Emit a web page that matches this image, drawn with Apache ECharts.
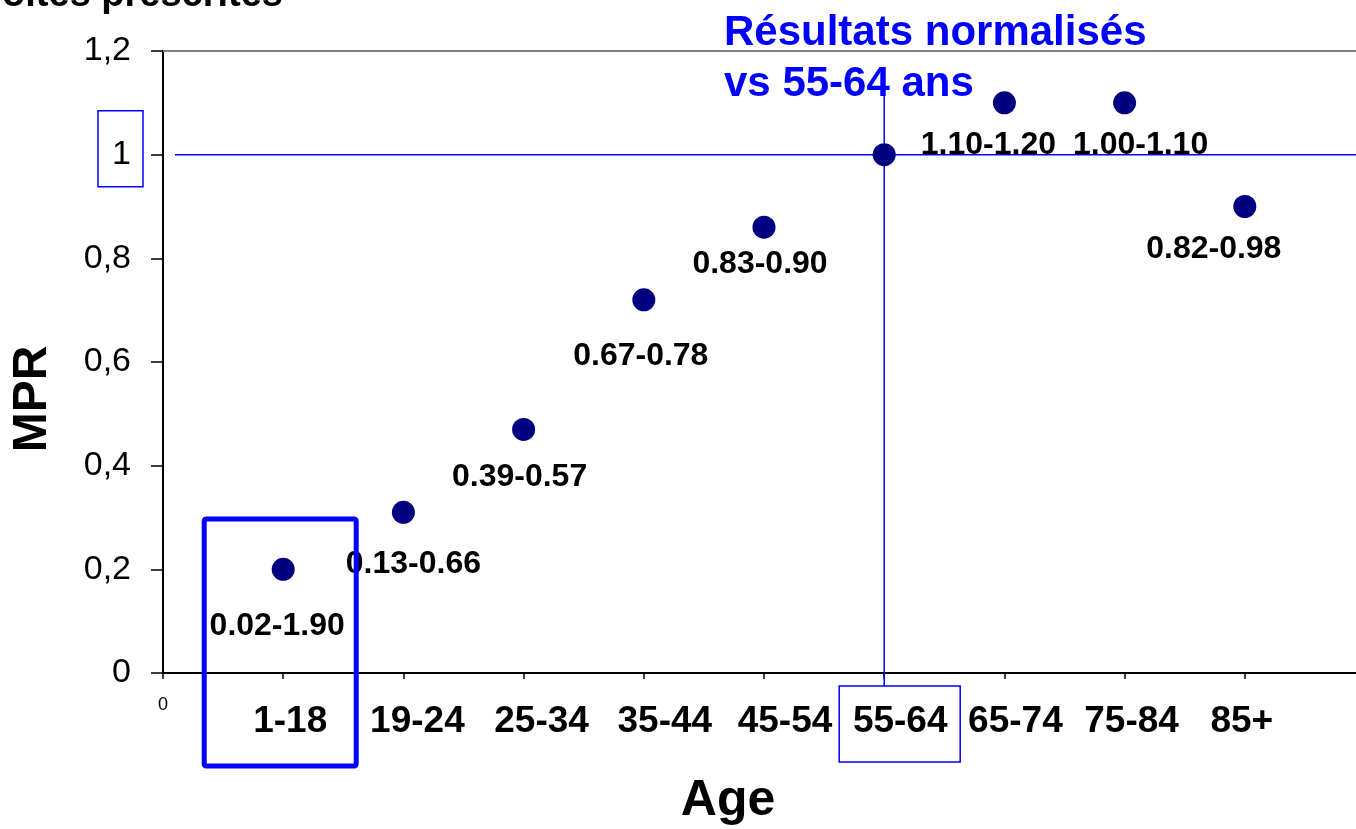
<!DOCTYPE html>
<html>
<head>
<meta charset="utf-8">
<title>MPR par âge</title>
<script src="https://cdn.jsdelivr.net/npm/echarts@6/dist/echarts.min.js"></script>
<style>
  html, body { margin: 0; padding: 0; background: #fff; }
  #chart { width: 1356px; height: 829px; }
</style>
</head>
<body>
<div id="chart"></div>
<script>
// Age groups, MPR per group (normalised to 55-64) and the confidence ranges shown beside each dot
const ageGroups = ['1-18', '19-24', '25-34', '35-44', '45-54', '55-64', '65-74', '75-84', '85+'];
const mprValues = [0.2, 0.31, 0.47, 0.72, 0.86, 1.0, 1.1, 1.1, 0.9];
const rangeLabels = ['0.02-1.90', '0.13-0.66', '0.39-0.57', '0.67-0.78', '0.83-0.90', '', '1.10-1.20', '1.00-1.10', '0.82-0.98'];
const referenceGroup = 6;      // position of 55-64 on the x axis
const referenceValue = 1;

// where each range label sits relative to its dot (pixels)
const labelShift = [[-6, 57], [10, 52], [-4, 48], [-3, 56], [-4, 37], [0, 0], [-16, 42], [16, 42], [-31, 43]];
// horizontal nudge of each age-group label from its tick (pixels)
const tickLabelNudge = [7, 14, 18, 21, 21, 16, 11, 7, -3];

const FONT = '"Liberation Sans", Arial, Helvetica, sans-serif';
const BLUE = '#0000ff';

const chart = echarts.init(document.getElementById('chart'), null, { renderer: 'canvas' });

const points = ageGroups.map((g, i) => ({
  value: [i + 1, mprValues[i]],
  label: { offset: labelShift[i] }
}));

// one rich style per age-group label so each can be nudged sideways
const tickRich = { z: { fontSize: 18, lineHeight: 18, color: '#000', fontFamily: FONT } };
tickLabelNudge.forEach((n, i) => {
  tickRich['c' + i] = {
    fontSize: 37, fontWeight: 'bold', lineHeight: 51, color: '#000', fontFamily: FONT,
    padding: n >= 0 ? [0, 0, 0, 2 * n] : [0, -2 * n, 0, 0]
  };
});

chart.setOption({
  animation: false,
  backgroundColor: '#ffffff',
  textStyle: { fontFamily: FONT },
  grid: { left: 163, top: 51, width: 1202, height: 622, containLabel: false, outerBoundsMode: 'none' },
  xAxis: {
    type: 'value',
    min: 0,
    max: 10,
    interval: 1,
    splitLine: { show: false },
    axisLine: { show: true, onZero: false, lineStyle: { color: '#000', width: 2 } },
    axisTick: { show: true, length: 6, lineStyle: { color: '#000', width: 1.5 } },
    axisLabel: {
      margin: 23,
      color: '#000',
      fontFamily: FONT,
      formatter: function (v) {
        if (v === 0) return '{z|0}';
        if (v >= 1 && v <= ageGroups.length) return '{c' + (v - 1) + '|' + ageGroups[v - 1] + '}';
        return '';
      },
      rich: tickRich
    }
  },
  yAxis: {
    type: 'value',
    min: 0,
    max: 1.2,
    interval: 0.2,
    splitLine: { show: false },
    axisLine: { show: true, lineStyle: { color: '#000', width: 2 } },
    axisTick: { show: true, length: 12, lineStyle: { color: '#000', width: 1.5 } },
    axisLabel: {
      margin: 32,
      fontSize: 34,
      color: '#000',
      fontFamily: FONT,
      formatter: v => String(Math.round(v * 10) / 10).replace('.', ',')
    }
  },
  series: [{
    type: 'scatter',
    symbol: 'circle',
    symbolSize: 23,
    itemStyle: { color: '#000080', opacity: 1 },
    z: 5,
    label: {
      show: true,
      position: 'inside',
      color: '#000',
      opacity: 1,
      fontSize: 32,
      fontWeight: 'bold',
      fontFamily: FONT,
      formatter: p => rangeLabels[p.dataIndex]
    },
    emphasis: { disabled: true },
    data: points
  }]
});

// Annotations: reference lines at 55-64 / MPR = 1, highlight boxes and captions
const px = (x, y) => chart.convertToPixel({ gridIndex: 0 }, [x, y]);
const origin = px(0, 0);
const topLeft = px(0, 1.2);
const rightEnd = px(10, 0);
const refPoint = px(referenceGroup, referenceValue);
const refBase = px(referenceGroup, 0);
const firstGroup = px(1, 0);
const oneTick = px(0, referenceValue);

chart.setOption({
  graphic: [
    // upper frame line at 1,2
    { type: 'line', z: 1, shape: { x1: topLeft[0], y1: topLeft[1], x2: rightEnd[0], y2: topLeft[1] },
      style: { stroke: '#808080', lineWidth: 2 } },
    // horizontal reference at MPR = 1
    { type: 'line', z: 2, shape: { x1: px(0.1, 0)[0], y1: refPoint[1], x2: rightEnd[0], y2: refPoint[1] },
      style: { stroke: BLUE, lineWidth: 1.5 } },
    // vertical reference through 55-64
    { type: 'line', z: 2, shape: { x1: refPoint[0], y1: px(0, 1.16)[1], x2: refPoint[0], y2: refBase[1] + 13 },
      style: { stroke: BLUE, lineWidth: 1.5 } },
    // box around the "1" tick label
    { type: 'rect', z: 2, shape: { x: oneTick[0] - 65, y: oneTick[1] - 44, width: 45, height: 76 },
      style: { fill: 'none', stroke: BLUE, lineWidth: 1.5 } },
    // box around the 55-64 category label
    { type: 'rect', z: 2, shape: { x: refBase[0] - 45, y: refBase[1] + 13, width: 121, height: 76 },
      style: { fill: 'none', stroke: BLUE, lineWidth: 1.5 } },
    // thick box around the 1-18 group
    { type: 'rect', z: 6, shape: { x: firstGroup[0] - 79, y: origin[1] - 154, width: 152, height: 247, r: 2 },
      style: { fill: 'none', stroke: BLUE, lineWidth: 5 } },
    // caption for the normalisation
    { type: 'text', z: 7, x: 724, y: 8,
      style: { text: 'Résultats normalisés\nvs 55-64 ans', fill: BLUE, font: 'bold 42px ' + FONT,
               lineHeight: 51, verticalAlign: 'top', align: 'left' } },
    // chart title (partly above the canvas)
    { type: 'text', z: 7, x: 283, y: -4,
      style: { text: 'Nombre de boîtes prescrites', fill: '#000', font: 'bold 38px ' + FONT,
               align: 'right', verticalAlign: 'middle' } },
    // axis titles
    { type: 'text', z: 7, x: 728, y: 801,
      style: { text: 'Age', fill: '#000', font: 'bold 50px ' + FONT, align: 'center', verticalAlign: 'middle' } },
    { type: 'text', z: 7, x: 33, y: 399, rotation: Math.PI / 2,
      style: { text: 'MPR', fill: '#000', font: 'bold 48px ' + FONT, align: 'center', verticalAlign: 'middle' } }
  ]
});
</script>
</body>
</html>
